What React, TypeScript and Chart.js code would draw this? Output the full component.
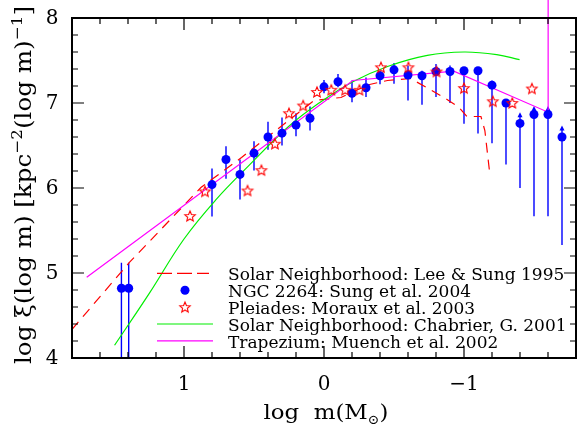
import React, { useEffect, useRef } from "react";
import { Chart, registerables } from "chart.js";

Chart.register(...registerables);

// ---------- data ----------
// NGC 2264: Sung et al. 2004 (filled circles with error bars)
const ngcX = [1.447, 1.395, 0.8, 0.7, 0.6, 0.5, 0.4, 0.3, 0.2, 0.1, 0.0, -0.1, -0.2, -0.3, -0.4, -0.5, -0.6, -0.7, -0.8, -0.9, -1.0, -1.1, -1.2, -1.3, -1.4, -1.5, -1.6, -1.7];
const ngcY = [4.82, 4.82, 6.04, 6.335, 6.16, 6.41, 6.6, 6.645, 6.74, 6.82, 7.19, 7.25, 7.115, 7.18, 7.32, 7.39, 7.33, 7.32, 7.37, 7.37, 7.38, 7.38, 7.21, 7.0, 6.76, 6.865, 6.865, 6.6];
const ngcHi: (number | null)[] = [5.12, 5.12, 6.23, 6.49, 6.335, 6.55, 6.78, 6.83, 6.88, 6.96, 7.27, 7.34, 7.265, 7.3, 7.38, 7.47, 7.44, 7.38, 7.46, 7.44, null, null, 7.265, null, 6.89, 6.965, 6.965, 6.735];
const ngcLo = [4.0, 4.0, 5.665, 6.108, 5.865, 6.206, 6.45, 6.5, 6.61, 6.676, 7.115, 7.186, 7.009, 7.07, 7.22, 7.226, 7.03, 6.98, 7.07, 7.0, 6.755, 6.64, 6.527, 6.276, 6.0, 5.668, 5.668, 5.33];
const ngcLimit = [false, false, false, false, false, false, false, false, false, false, false, false, false, false, false, false, false, false, false, false, false, false, false, false, true, true, true, true];

// Pleiades: Moraux et al. 2003 (open stars)
const plX = [0.957, 0.85, 0.546, 0.447, 0.35, 0.25, 0.149, 0.05, -0.052, -0.151, -0.253, -0.407, -0.603, -0.804, -1.0, -1.206, -1.345, -1.485];
const plY = [5.67, 5.96, 5.97, 6.21, 6.52, 6.88, 6.97, 7.13, 7.155, 7.155, 7.155, 7.42, 7.42, 7.37, 7.175, 7.02, 7.0, 7.17];

// Solar Neighborhood: Lee & Sung 1995 (dashed)
const leeX = [1.801, 1.39, 0.879, 0.589, 0.071, -0.121, -0.227, -0.326, -0.454, -0.617, -0.759, -0.879, -0.965, -1.021, -1.121, -1.149, -1.184];
const leeY = [4.335, 5.124, 6.006, 6.359, 7.029, 7.065, 7.147, 7.218, 7.265, 7.288, 7.159, 7.041, 6.947, 6.841, 6.841, 6.676, 6.17];

// Solar Neighborhood: Chabrier, G. 2001 (green)
const chabX = [1.496, 1.248, 1.0, 0.773, 0.539, 0.255, 0.043, -0.206, -0.454, -0.738, -1.0, -1.234, -1.397];
const chabY = [4.15, 4.76, 5.4, 5.86, 6.26, 6.72, 6.99, 7.25, 7.43, 7.56, 7.6, 7.57, 7.51];

// Trapezium: Muench et al. 2002 (magenta)
const trapX = [1.695, -0.206, -0.927, -1.601, -1.601];
const trapY = [4.95, 7.265, 7.374, 6.892, 12];

// axis ticks
const xMajorTicks = [1, 0, -1];
const xTickLabels = ["1", "0", "\u22121"];
const yMajorTicks = [4, 5, 6, 7, 8];
const yTickLabels = ["4", "5", "6", "7", "8"];

const legendLabels = [
  "Solar Neighborhood: Lee & Sung 1995",
  "NGC 2264: Sung et al. 2004",
  "Pleiades: Moraux et al. 2003",
  "Solar Neighborhood: Chabrier, G. 2001",
  "Trapezium: Muench et al. 2002",
];

const SERIF = "'DejaVu Serif', 'DejaVu Sans', serif";
const BLUE = "#0000ff";
const RED = "#ff0000";
const GREEN = "#00ee00";
const MAGENTA = "#ff00ff";

function makeStar(r: number, color: string, lw: number): HTMLCanvasElement {
  const size = Math.ceil(2 * r + lw * 2 + 2);
  const c = document.createElement("canvas");
  c.width = size;
  c.height = size;
  const ctx = c.getContext("2d")!;
  const cx = size / 2;
  const cy = size / 2 + 0.5;
  ctx.beginPath();
  for (let i = 0; i < 10; i++) {
    const rr = i % 2 === 0 ? r : r * 0.45;
    const a = -Math.PI / 2 + (i * Math.PI) / 5;
    const px = cx + rr * Math.cos(a);
    const py = cy + rr * Math.sin(a);
    if (i === 0) ctx.moveTo(px, py);
    else ctx.lineTo(px, py);
  }
  ctx.closePath();
  ctx.strokeStyle = color;
  ctx.lineWidth = lw;
  ctx.stroke();
  return c;
}

type Part = { t: string; sup?: boolean; sub?: boolean };

// draws a run of text parts centred on cx, optionally stretched to a target width
function drawParts(ctx: CanvasRenderingContext2D, parts: Part[], cx: number, baseline: number, size: number, small: number, target?: number) {
  const fonts = parts.map((p) => (p.sup || p.sub ? `${small}px ${SERIF}` : `${size}px ${SERIF}`));
  let total = 0;
  const widths = parts.map((p, i) => {
    ctx.font = fonts[i];
    const w = ctx.measureText(p.t).width;
    total += w;
    return w;
  });
  const s = target ? target / total : 1;
  ctx.save();
  ctx.translate(cx, baseline);
  ctx.scale(s, 1);
  let x = -total / 2;
  ctx.textAlign = "left";
  ctx.textBaseline = "alphabetic";
  parts.forEach((p, i) => {
    ctx.font = fonts[i];
    const dy = p.sup ? -size * 0.42 : p.sub ? size * 0.22 : 0;
    ctx.fillText(p.t, x, dy);
    x += widths[i];
  });
  ctx.restore();
}

export default function App() {
  const ref = useRef<HTMLCanvasElement | null>(null);

  useEffect(() => {
    const canvas = ref.current!;
    const star = makeStar(5.5, RED, 1.1);

    const decor = {
      id: "decor",
      beforeDatasetsDraw(chart: any) {
        const { ctx, chartArea: a } = chart;
        const x = chart.scales.x;
        const y = chart.scales.y;
        ctx.save();
        ctx.beginPath();
        ctx.rect(a.left, a.top, a.right - a.left, a.bottom - a.top);
        ctx.clip();
        ctx.strokeStyle = BLUE;
        ctx.fillStyle = BLUE;
        ctx.lineWidth = 1.4;
        ngcX.forEach((xv, i) => {
          const px = x.getPixelForValue(xv);
          const py = y.getPixelForValue(ngcY[i]);
          ctx.beginPath();
          ctx.moveTo(px, py);
          ctx.lineTo(px, y.getPixelForValue(ngcLo[i]));
          const hi = ngcHi[i];
          if (hi != null) {
            const ph = y.getPixelForValue(hi);
            ctx.moveTo(px, py);
            ctx.lineTo(px, ngcLimit[i] ? ph + 3 : ph);
          }
          ctx.stroke();
          if (hi != null && ngcLimit[i]) {
            const ph = y.getPixelForValue(hi);
            ctx.beginPath();
            ctx.moveTo(px, ph);
            ctx.lineTo(px - 2.5, ph + 5);
            ctx.lineTo(px + 2.5, ph + 5);
            ctx.closePath();
            ctx.fill();
          }
        });
        ctx.restore();
      },
      afterDraw(chart: any) {
        const { ctx, chartArea: a } = chart;
        const x = chart.scales.x;
        const y = chart.scales.y;
        ctx.save();
        ctx.strokeStyle = "#000";
        ctx.fillStyle = "#000";
        // frame
        ctx.lineWidth = 2;
        ctx.strokeRect(a.left, a.top, a.right - a.left, a.bottom - a.top);
        // ticks
        ctx.lineWidth = 1.2;
        ctx.beginPath();
        for (let k = -9; k <= 9; k++) {
          const v = k * 0.2;
          const major = k % 5 === 0;
          const len = major ? 12 : 6;
          const px = x.getPixelForValue(v);
          ctx.moveTo(px, a.top);
          ctx.lineTo(px, a.top + len);
          ctx.moveTo(px, a.bottom);
          ctx.lineTo(px, a.bottom - len);
        }
        for (let k = 20; k <= 40; k++) {
          const v = k * 0.2;
          const major = k % 5 === 0;
          const len = major ? 12 : 6;
          const py = y.getPixelForValue(v);
          ctx.moveTo(a.left, py);
          ctx.lineTo(a.left + len, py);
          ctx.moveTo(a.right, py);
          ctx.lineTo(a.right - len, py);
        }
        ctx.stroke();

        // tick labels
        ctx.font = `20px ${SERIF}`;
        ctx.textAlign = "center";
        ctx.textBaseline = "middle";
        yMajorTicks.forEach((v, i) => {
          ctx.fillText(yTickLabels[i], 52, y.getPixelForValue(v) + 1);
        });
        ctx.textBaseline = "alphabetic";
        xMajorTicks.forEach((v, i) => {
          ctx.fillText(xTickLabels[i], x.getPixelForValue(v), 390);
        });

        // x title
        drawParts(ctx, [{ t: "log  m(M" }, { t: "\u2299", sub: true }, { t: ")" }], 326, 419, 21, 13, 125);

        // y title
        ctx.save();
        ctx.translate(31, 185);
        ctx.rotate(-Math.PI / 2);
        drawParts(
          ctx,
          [{ t: "log \u03be(log m) [kpc" }, { t: "\u22122", sup: true }, { t: "(log m)" }, { t: "\u22121", sup: true }, { t: "]" }],
          0,
          0,
          22,
          15,
          358
        );
        ctx.restore();

        // legend
        const base0 = 280;
        const step = 16.9;
        ctx.font = `17px ${SERIF}`;
        ctx.textAlign = "left";
        ctx.textBaseline = "alphabetic";
        legendLabels.forEach((lab, i) => {
          ctx.fillStyle = "#000";
          ctx.fillText(lab, 228, base0 + i * step);
        });
        const sy = (i: number) => base0 + i * step - 6.7;
        // dashed red
        ctx.strokeStyle = RED;
        ctx.lineWidth = 1.2;
        ctx.setLineDash([15, 5]);
        ctx.beginPath();
        ctx.moveTo(157, sy(0));
        ctx.lineTo(209, sy(0));
        ctx.stroke();
        ctx.setLineDash([]);
        // circle
        ctx.fillStyle = BLUE;
        ctx.beginPath();
        ctx.arc(185, sy(1), 4.5, 0, Math.PI * 2);
        ctx.fill();
        // star
        ctx.drawImage(star, 185 - star.width / 2, sy(2) - star.height / 2);
        // green
        ctx.strokeStyle = GREEN;
        ctx.beginPath();
        ctx.moveTo(157, sy(3));
        ctx.lineTo(213, sy(3));
        ctx.stroke();
        // magenta
        ctx.strokeStyle = MAGENTA;
        ctx.beginPath();
        ctx.moveTo(157, sy(4));
        ctx.lineTo(213, sy(4));
        ctx.stroke();
        ctx.restore();
      },
    };

    const pts = (xs: number[], ys: number[]) => xs.map((v, i) => ({ x: v, y: ys[i] }));

    const chart = new Chart(canvas, {
      type: "scatter",
      data: {
        datasets: [
          {
            label: legendLabels[2],
            data: pts(plX, plY),
            pointStyle: star as any,
            pointRadius: 5,
            showLine: false,
          },
          {
            label: legendLabels[1],
            data: pts(ngcX, ngcY),
            pointStyle: "circle",
            pointRadius: 4.5,
            backgroundColor: BLUE,
            borderWidth: 0,
            showLine: false,
          },
          {
            label: legendLabels[4],
            data: pts(trapX, trapY),
            showLine: true,
            borderColor: MAGENTA,
            borderWidth: 1.2,
            pointRadius: 0,
            tension: 0,
            clip: false as any,
          },
          {
            label: legendLabels[3],
            data: pts(chabX, chabY),
            showLine: true,
            borderColor: GREEN,
            borderWidth: 1.2,
            pointRadius: 0,
            tension: 0.4,
          },
          {
            label: legendLabels[0],
            data: pts(leeX, leeY),
            showLine: true,
            borderColor: RED,
            borderWidth: 1.2,
            borderDash: [10, 7],
            pointRadius: 0,
            tension: 0,
          },
        ],
      },
      options: {
        animation: false,
        responsive: false,
        devicePixelRatio: 1,
        layout: { padding: { left: 72, top: 18, right: 2, bottom: 73 } },
        plugins: { legend: { display: false }, tooltip: { enabled: false } },
        events: [],
        scales: {
          x: { type: "linear", min: -1.8, max: 1.8, reverse: true, display: false },
          y: { type: "linear", min: 4, max: 8, display: false },
        },
      },
      plugins: [decor],
    });
    return () => chart.destroy();
  }, []);

  return (
    <div style={{ position: "fixed", left: 0, top: 0, width: 579, height: 431, overflow: "hidden", background: "#fff" }}>
      <canvas ref={ref} width={582} height={431} style={{ display: "block" }} />
    </div>
  );
}
